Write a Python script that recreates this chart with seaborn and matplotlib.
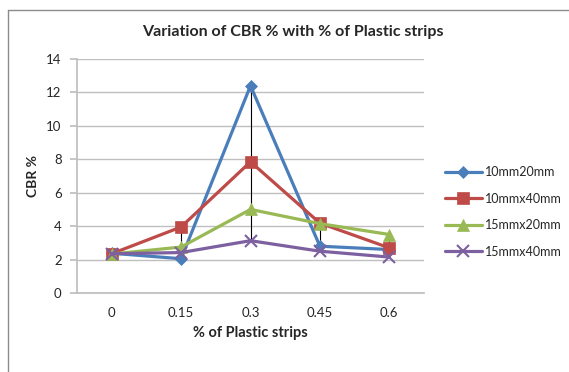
import matplotlib
matplotlib.use("Agg")
import matplotlib.pyplot as plt
from matplotlib.lines import Line2D
import seaborn as sns
import pandas as pd

# Plastic strip content (% by weight) and measured CBR values
strip_labels = ["0", "0.15", "0.3", "0.45", "0.6"]
series_names = ["10mm20mm", "10mmx40mm", "15mmx20mm", "15mmx40mm"]
cbr_10x20 = [2.38, 2.05, 12.4, 2.8, 2.6]
cbr_10x40 = [2.35, 3.95, 7.85, 4.18, 2.7]
cbr_15x20 = [2.33, 2.75, 5.0, 4.15, 3.5]
cbr_15x40 = [2.35, 2.42, 3.13, 2.5, 2.15]

series_values = [cbr_10x20, cbr_10x40, cbr_15x20, cbr_15x40]
colors = ["#4A7EBB", "#BE4B48", "#98B954", "#7D60A0"]
markers = ["D", "s", "^", "x"]
marker_sizes = [6, 8, 8, 8]

rows = []
for name, vals in zip(series_names, series_values):
    for i, v in enumerate(vals):
        rows.append({"pos": i, "cbr": v, "series": name})
df = pd.DataFrame(rows)

sns.set_theme(style="white")
plt.rcParams["font.family"] = ["Lato", "DejaVu Sans"]

fig = plt.figure(figsize=(5.69, 3.72), dpi=100)
fig.patch.set_facecolor("white")
ax = fig.add_axes([77 / 569, 1 - 293 / 372, (424 - 77) / 569, (293 - 59) / 372])

# high-low lines joining the series at each category
for i in range(len(strip_labels)):
    vals = [s[i] for s in series_values]
    ax.vlines(i, min(vals), max(vals), color="black", lw=0.8, zorder=1)

for name, color, mk, ms in zip(series_names, colors, markers, marker_sizes):
    sub = df[df["series"] == name]
    sns.lineplot(data=sub, x="pos", y="cbr", ax=ax, color=color, lw=2.3,
                 marker=mk, markersize=ms, markeredgecolor=color,
                 markeredgewidth=1.5 if mk == "x" else 0.5,
                 label=name, zorder=3)

ax.set_xlim(-0.5, len(strip_labels) - 0.5)
ax.set_ylim(0, 14)
ax.set_yticks(range(0, 15, 2))
ax.set_xticks(range(len(strip_labels)))
ax.set_xticklabels(strip_labels)
ax.yaxis.grid(True, color="#BFBFBF", lw=1)
ax.xaxis.grid(False)
for side in ["top", "right"]:
    ax.spines[side].set_visible(False)
ax.spines["left"].set_color("#BFBFBF")
ax.spines["bottom"].set_color("#BFBFBF")
ax.tick_params(axis="y", which="both", left=True, length=5, color="#BFBFBF",
               labelsize=9.5, labelcolor="#262626", pad=6)
ax.tick_params(axis="x", bottom=False, labelsize=9.5, labelcolor="#262626", pad=4)

ax.set_xlabel("% of Plastic strips", fontsize=10.5, fontweight="bold", labelpad=5)
ax.set_ylabel("CBR %", fontsize=10, fontweight="bold", labelpad=5)

fig.text(293 / 569, 1 - 32 / 372, "Variation of CBR % with % of Plastic strips",
         ha="center", va="center", fontsize=11.5, fontweight="bold")

leg = ax.legend(loc="center left", bbox_to_anchor=(434 / 569, 1 - 212 / 372),
                bbox_transform=fig.transFigure, frameon=False, fontsize=9,
                handlelength=2.9, labelspacing=1.15, handletextpad=0.25)

# outer chart frame
fig.add_artist(Line2D([8 / 569, 8 / 569], [0, 1 - 10 / 372], transform=fig.transFigure,
                      color="#8C8C8C", lw=1))
fig.add_artist(Line2D([8 / 569, 1], [1 - 10 / 372, 1 - 10 / 372], transform=fig.transFigure,
                      color="#8C8C8C", lw=1))

fig.savefig("out.png", dpi=100)
